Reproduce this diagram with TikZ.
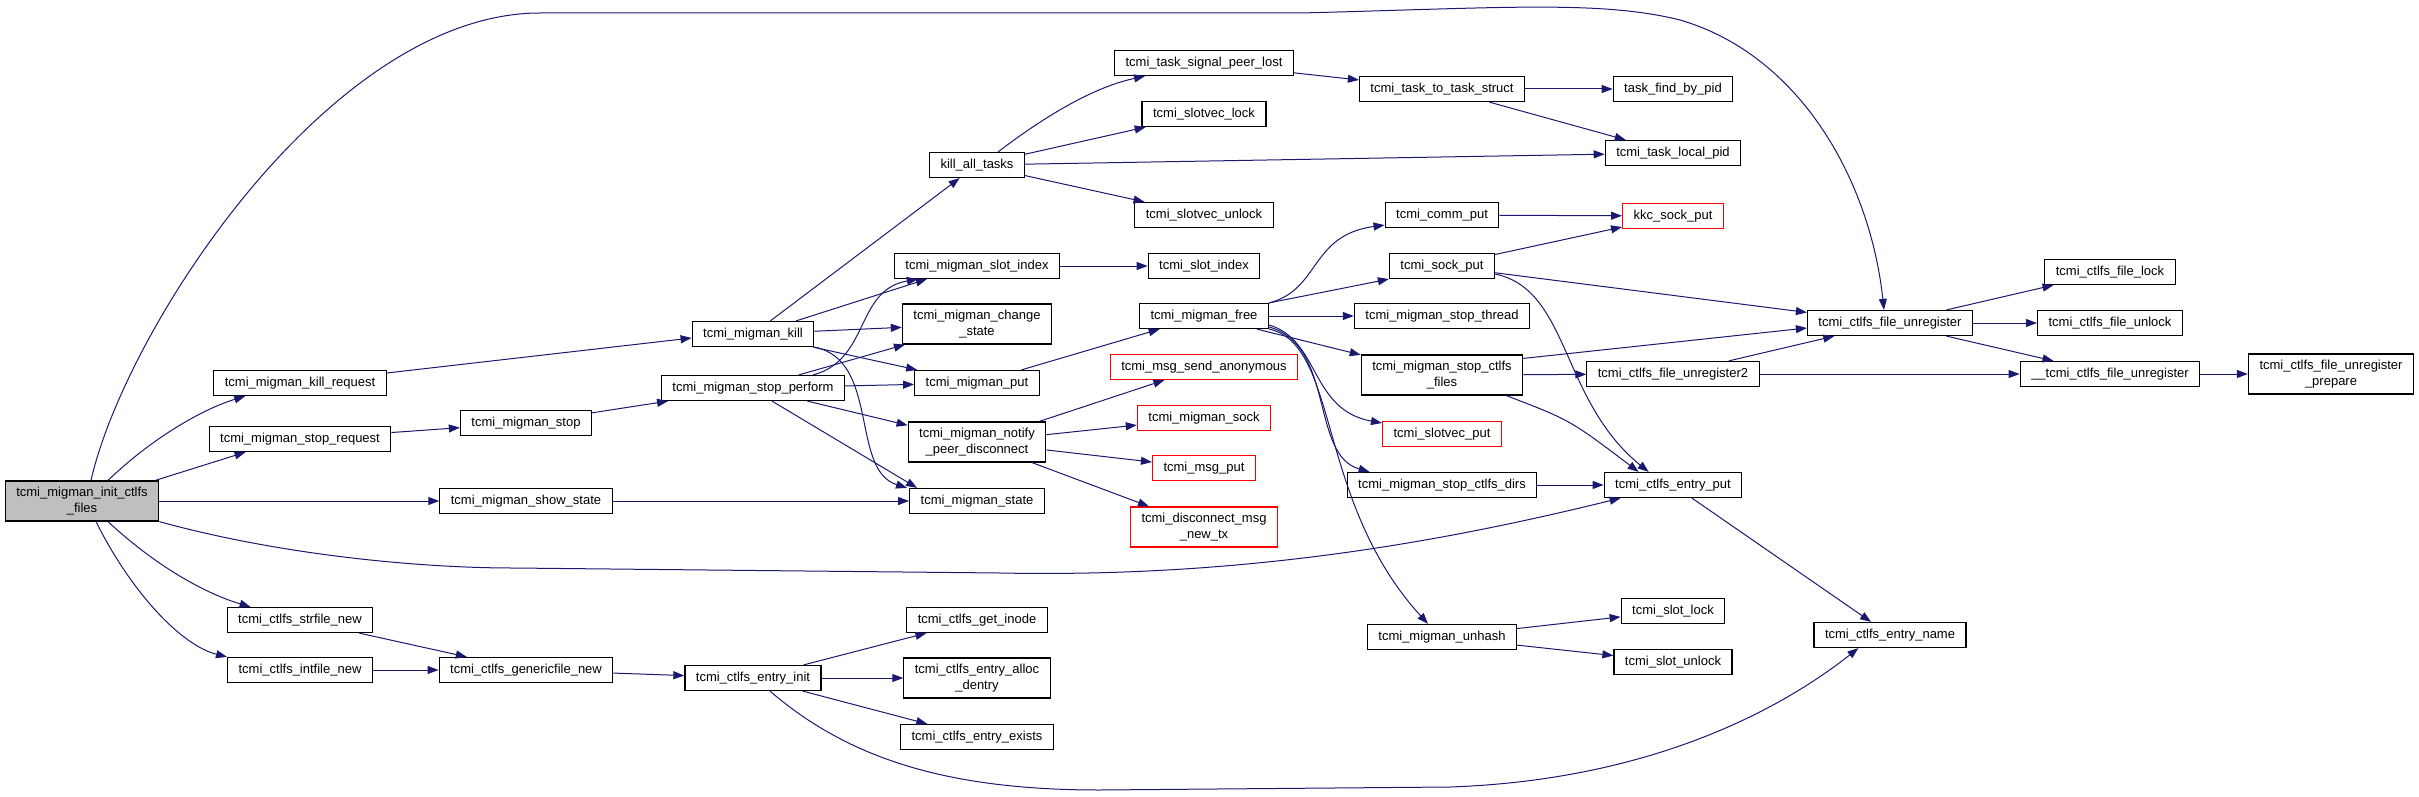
\documentclass[tikz,border=0pt]{standalone}
\usepackage{fontspec}
\setmainfont{Liberation Sans}
\usepackage{tikz}
\usetikzlibrary{arrows.meta, calc}
\definecolor{edgeblue}{HTML}{191970}
\definecolor{rootgray}{HTML}{BFBFBF}
\definecolor{extred}{HTML}{FF0000}

\begin{document}
\begin{tikzpicture}[x=0.5pt, y=-0.5pt,
    fn/.style={draw=black, line width=0.6pt, fill=white, inner xsep=5.5pt, inner ysep=1pt,
               minimum height=12.5pt, align=center, font=\fontsize{6.5}{7.8}\selectfont},
    fntwo/.style={fn, minimum height=20pt},
    fnred/.style={fn, draw=extred},
    fnroot/.style={fntwo, fill=rootgray},
    call/.style={draw=edgeblue, line width=0.5pt, -{Triangle[length=5.5pt, width=4pt]}, edgeblue}]
  \useasboundingbox (0,0) rectangle (2419,797);

  % caller
  \node[fnroot] (root) at (82,501) {tcmi\_migman\_init\_ctlfs\\\_files};

  % first level
  \node[fn] (killreq) at (300,383) {tcmi\_migman\_kill\_request};
  \node[fn] (stopreq) at (300,439) {tcmi\_migman\_stop\_request};
  \node[fn] (mstop) at (526,423) {tcmi\_migman\_stop};
  \node[fn] (showstate) at (526,501) {tcmi\_migman\_show\_state};
  \node[fn] (strfile) at (300,620) {tcmi\_ctlfs\_strfile\_new};
  \node[fn] (intfile) at (300,670) {tcmi\_ctlfs\_intfile\_new};
  \node[fn] (genfile) at (526,670) {tcmi\_ctlfs\_genericfile\_new};

  % migman column
  \node[fn] (mkill) at (753,334) {tcmi\_migman\_kill};
  \node[fn] (sperform) at (753,388) {tcmi\_migman\_stop\_perform};
  \node[fn] (einit) at (753,678) {tcmi\_ctlfs\_entry\_init};

  \node[fn] (killall) at (977,165) {kill\_all\_tasks};
  \node[fn] (mslotidx) at (977,266) {tcmi\_migman\_slot\_index};
  \node[fntwo] (chstate) at (977,324) {tcmi\_migman\_change\\\_state};
  \node[fn] (mput) at (977,383) {tcmi\_migman\_put};
  \node[fntwo] (notify) at (977,442) {tcmi\_migman\_notify\\\_peer\_disconnect};
  \node[fn] (mstate) at (977,501) {tcmi\_migman\_state};
  \node[fn] (getinode) at (977,620) {tcmi\_ctlfs\_get\_inode};
  \node[fntwo] (allocd) at (977,678) {tcmi\_ctlfs\_entry\_alloc\\\_dentry};
  \node[fn] (eexists) at (977,737) {tcmi\_ctlfs\_entry\_exists};

  % tasks, slots, messages
  \node[fn] (peerlost) at (1204,63) {tcmi\_task\_signal\_peer\_lost};
  \node[fn] (svlock) at (1204,114) {tcmi\_slotvec\_lock};
  \node[fn] (svunlock) at (1204,215) {tcmi\_slotvec\_unlock};
  \node[fn] (slotidx) at (1204,266) {tcmi\_slot\_index};
  \node[fn] (mfree) at (1204,316) {tcmi\_migman\_free};
  \node[fnred] (sendanon) at (1204,367) {tcmi\_msg\_send\_anonymous};
  \node[fnred] (msock) at (1204,418) {tcmi\_migman\_sock};
  \node[fnred] (msgput) at (1204,468) {tcmi\_msg\_put};
  \node[fnred, minimum height=20pt] (discmsg) at (1204,527) {tcmi\_disconnect\_msg\\\_new\_tx};

  \node[fn] (t2ts) at (1442,89) {tcmi\_task\_to\_task\_struct};
  \node[fn] (commput) at (1442,215) {tcmi\_comm\_put};
  \node[fn] (sockput) at (1442,266) {tcmi\_sock\_put};
  \node[fn] (stopthr) at (1442,316) {tcmi\_migman\_stop\_thread};
  \node[fntwo] (stopfiles) at (1442,375) {tcmi\_migman\_stop\_ctlfs\\\_files};
  \node[fnred] (svput) at (1442,434) {tcmi\_slotvec\_put};
  \node[fn] (stopdirs) at (1442,485) {tcmi\_migman\_stop\_ctlfs\_dirs};
  \node[fn] (unhash) at (1442,637) {tcmi\_migman\_unhash};

  \node[fn] (findpid) at (1673,89) {task\_find\_by\_pid};
  \node[fn] (localpid) at (1673,153) {tcmi\_task\_local\_pid};
  \node[fnred] (kkc) at (1673,216) {kkc\_sock\_put};
  \node[fn] (funreg2) at (1673,374) {tcmi\_ctlfs\_file\_unregister2};
  \node[fn] (eput) at (1673,485) {tcmi\_ctlfs\_entry\_put};
  \node[fn] (slock) at (1673,611) {tcmi\_slot\_lock};
  \node[fn] (sunlock) at (1673,662) {tcmi\_slot\_unlock};

  \node[fn] (funreg) at (1890,323) {tcmi\_ctlfs\_file\_unregister};
  \node[fn] (ename) at (1890,635) {tcmi\_ctlfs\_entry\_name};

  \node[fn] (flock) at (2110,272) {tcmi\_ctlfs\_file\_lock};
  \node[fn] (funlock) at (2110,323) {tcmi\_ctlfs\_file\_unlock};
  \node[fn] (ufunreg) at (2110,374) {\_\_tcmi\_ctlfs\_file\_unregister};
  \node[fntwo] (prepare) at (2331,374) {tcmi\_ctlfs\_file\_unregister\\\_prepare};

  % calls from the caller
  \draw[call] ($(root.north)+(9,0)$) .. controls (125,330) and (330,13) .. (540,13) -- (1300,13)
    .. controls (1500,8) and (1600,0) .. (1680,20) .. controls (1800,55) and (1870,180) .. ($(funreg.north)+(-6,0)$);
  \draw[call] ($(root.north)+(26,0)$) .. controls (150,440) and (200,410) .. ($(killreq.south west)+(32,0)$);
  \draw[call] ($(root.north east)+(-4,0)$) -- ($(stopreq.south west)+(37,0)$);
  \draw[call] (root.east) -- (showstate.west);
  \draw[call] (root.south east) .. controls (280,555) and (420,568) .. (513,568) -- (1000,573)
    .. controls (1250,578) and (1450,540) .. ($(eput.south west)+(17,0)$);
  \draw[call] ($(root.south)+(26,0)$) .. controls (160,570) and (210,595) .. ($(strfile.north west)+(24,0)$);
  \draw[call] ($(root.south)+(14,0)$) .. controls (130,590) and (180,645) .. (intfile.north west);

  \draw[call] ($(killreq.east)+(0,-10)$) -- ($(mkill.west)+(0,4)$);
  \draw[call] (stopreq) -- (mstop);
  \draw[call] (mstop) -- (sperform);
  \draw[call] (showstate) -- (mstate);
  \draw[call] (strfile) -- (genfile);
  \draw[call] (intfile) -- (genfile);
  \draw[call] (genfile) -- (einit);

  % migman_kill and stop_perform
  \draw[call] (mkill) -- (killall);
  \draw[call] ($(mkill.north)+(43,0)$) -- ($(mslotidx.south west)+(33,0)$);
  \draw[call] (mkill) -- (chstate);
  \draw[call] (mkill) -- (mput);
  \draw[call] (mkill.south east) .. controls (880,360) and (850,470) .. ($(mstate.north west)+(-2,0)$);
  \draw[call] ($(sperform.north)+(60,0)$) .. controls (870,360) and (855,290) .. ($(mslotidx.south west)+(24,0)$);
  \draw[call] (sperform) -- (chstate);
  \draw[call] (sperform) -- (mput);
  \draw[call] (sperform) -- (notify);
  \draw[call] ($(sperform.south)+(19,0)$) -- ($(mstate.north west)+(8,0)$);

  \draw[call] (mput) -- (mfree);
  \draw[call] (notify) -- (sendanon);
  \draw[call] (notify) -- (msock);
  \draw[call] (notify) -- (msgput);
  \draw[call] (notify) -- (discmsg);
  \draw[call] (mslotidx) -- (slotidx);

  % kill_all_tasks
  \draw[call] ($(killall.north)+(21,0)$) .. controls (1040,120) and (1090,88) .. ($(peerlost.south west)+(31,0)$);
  \draw[call] (killall) -- (svlock);
  \draw[call] (killall) -- (localpid);
  \draw[call] (killall) -- (svunlock);
  \draw[call] (peerlost) -- (t2ts);
  \draw[call] (t2ts) -- (findpid);
  \draw[call] (t2ts) -- (localpid);

  % migman_free
  \draw[call] (mfree.north east) .. controls (1320,290) and (1310,235) .. ($(commput.south west)+(0,-3)$);
  \draw[call] (mfree.north east) -- (sockput.south west);
  \draw[call] (mfree) -- (stopthr);
  \draw[call] (mfree) -- (stopfiles);
  \draw[call] ($(mfree.east)+(0,9)$) .. controls (1320,340) and (1310,410) .. ($(svput.west)+(0,-11)$);
  \draw[call] ($(mfree.east)+(0,11)$) .. controls (1335,345) and (1310,455) .. ($(stopdirs.north west)+(23,0)$);
  \draw[call] ($(mfree.east)+(0,13)$) .. controls (1340,345) and (1315,500) .. ($(unhash.north)+(-14,0)$);

  % sockets and ctlfs entries
  \draw[call] (sockput) -- (kkc);
  \draw[call] (sockput) -- (funreg);
  \draw[call] ($(sockput.east)+(0,8)$) .. controls (1570,290) and (1560,400) .. ($(eput.north west)+(45,0)$);
  \draw[call] (commput) -- (kkc);
  \draw[call] ($(stopfiles.north east)+(0,4)$) -- ($(funreg.west)+(0,5)$);
  \draw[call] (stopfiles) -- (funreg2);
  \draw[call] ($(stopfiles.south east)+(-17,0)$) .. controls (1570,420) .. ($(eput.north west)+(35,0)$);
  \draw[call] (funreg2) -- (funreg);
  \draw[call] (funreg2) -- (ufunreg);
  \draw[call] (stopdirs) -- (eput);
  \draw[call] (eput) -- (ename);

  \draw[call] ($(einit.south)+(17,0)$) .. controls (850,760) and (950,790) .. (1100,790) -- (1450,787)
    .. controls (1650,780) and (1780,710) .. ($(ename.south west)+(45,0)$);
  \draw[call] (einit) -- (getinode);
  \draw[call] (einit) -- (allocd);
  \draw[call] (einit) -- (eexists);

  \draw[call] (unhash) -- (slock);
  \draw[call] (unhash) -- (sunlock);
  \draw[call] (funreg) -- (flock);
  \draw[call] (funreg) -- (funlock);
  \draw[call] (funreg) -- (ufunreg);
  \draw[call] (ufunreg) -- (prepare);
\end{tikzpicture}
\end{document}
